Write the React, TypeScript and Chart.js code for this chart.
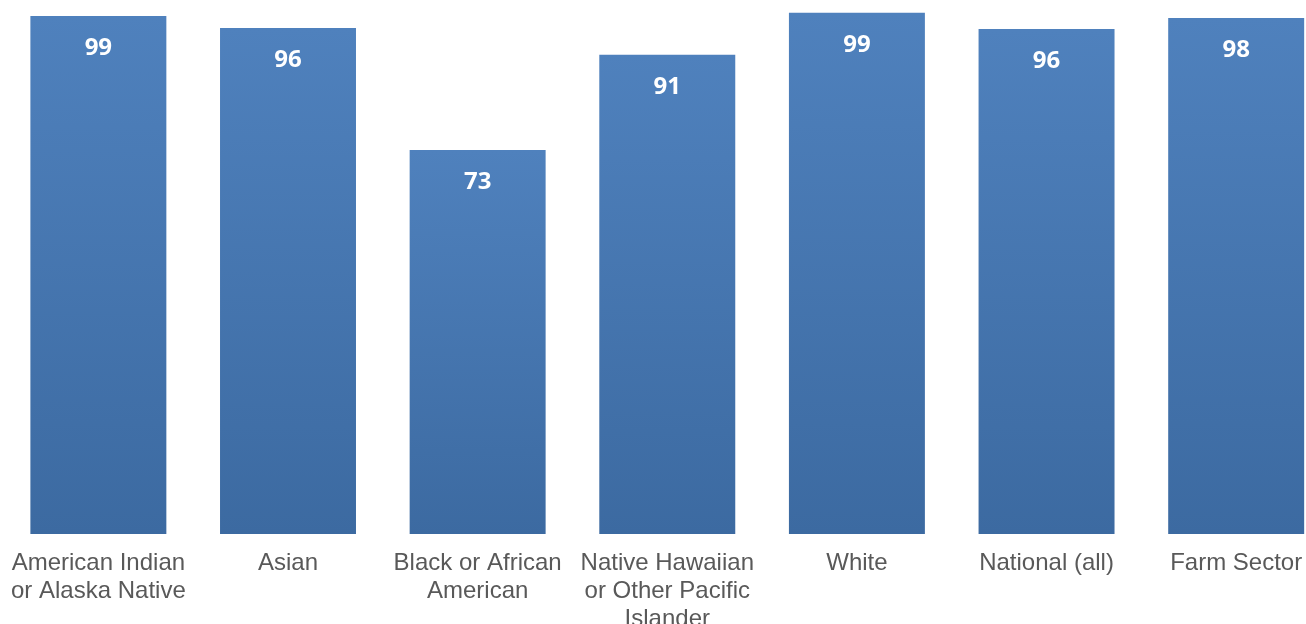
import React, { useEffect, useRef } from "react";
import { Chart, registerables } from "chart.js";

Chart.register(...registerables);

const categories: (string | string[])[] = [
  ["American Indian", "or Alaska Native"],
  "Asian",
  ["Black or African", "American"],
  ["Native Hawaiian", "or Other Pacific", "Islander"],
  "White",
  "National (all)",
  "Farm Sector",
];

const values: number[] = [98.5, 96.2, 73.0, 91.1, 99.1, 96.0, 98.1];

const gradientPlugin = {
  id: "barGradient",
  beforeDatasetsDraw(chart: any) {
    const ctx = chart.ctx;
    const meta = chart.getDatasetMeta(0);
    meta.data.forEach((el: any) => {
      const g = ctx.createLinearGradient(0, el.y, 0, el.base);
      g.addColorStop(0, "#4F81BD");
      g.addColorStop(1, "#3C6AA1");
      el.options = { ...el.options, backgroundColor: g };
    });
  },
};

const labelPlugin = {
  id: "valueLabels",
  afterDatasetsDraw(chart: any) {
    const ctx = chart.ctx;
    const meta = chart.getDatasetMeta(0);
    ctx.save();
    ctx.fillStyle = "#FFFFFF";
    ctx.font = 'bold 24px "Open Sans"';
    ctx.textAlign = "center";
    ctx.textBaseline = "middle";
    meta.data.forEach((el: any, i: number) => {
      ctx.fillText(String(Math.round(values[i])), el.x, el.y + 32);
    });
    ctx.restore();
  },
};

export default function App() {
  const ref = useRef<HTMLCanvasElement>(null);

  useEffect(() => {
    if (!ref.current) return;
    const chart = new Chart(ref.current, {
      type: "bar",
      data: {
        labels: categories,
        datasets: [
          {
            data: values,
            backgroundColor: "#4F81BD",
            borderWidth: 0,
            categoryPercentage: 1,
            barPercentage: 0.717,
          },
        ],
      },
      options: {
        responsive: false,
        animation: false,
        devicePixelRatio: 1,
        layout: { padding: { top: 8, bottom: 0, left: 0, right: 0 } },
        plugins: {
          legend: { display: false },
          tooltip: { enabled: false },
        },
        scales: {
          x: {
            grid: { display: false, drawTicks: false },
            border: { display: false },
            ticks: {
              color: "#595959",
              padding: 15,
              maxRotation: 0,
              autoSkip: false,
              font: { family: '"Liberation Sans", Arial, sans-serif', size: 24, lineHeight: 28 / 24 },
            },
          },
          y: {
            display: false,
            min: 0,
            max: 100,
          },
        },
      },
      plugins: [gradientPlugin, labelPlugin],
    });
    return () => chart.destroy();
  }, []);

  return (
    <div style={{ position: "fixed", left: -4, top: 0, width: 1335, height: 648 }}>
      <canvas ref={ref} width={1335} height={648} style={{ display: "block" }} />
    </div>
  );
}
